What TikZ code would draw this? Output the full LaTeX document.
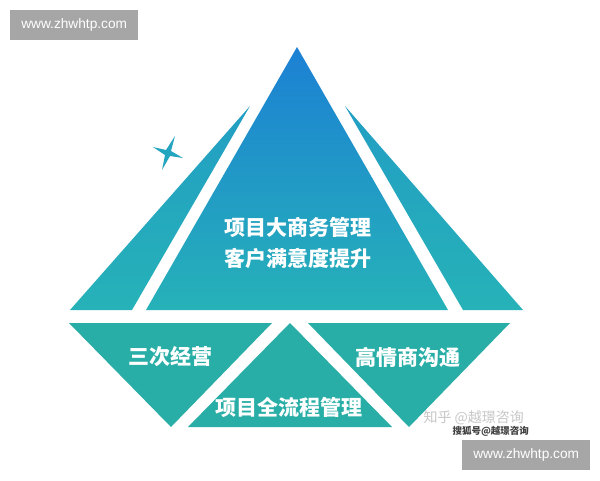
\documentclass[tikz,border=0pt]{standalone}
\usepackage{fontspec}
\setmainfont{Liberation Sans}
\newfontfamily\cjk{Noto Sans CJK SC}
\usepackage{tikz}

\definecolor{pyrtop}{RGB}{28,128,212}
\definecolor{pyrbot}{RGB}{38,178,184}
\definecolor{band}{RGB}{40,174,166}
\definecolor{wmgray}{RGB}{166,166,166}

\tikzset{
    label/.style={text=white, font=\cjk\bfseries\fontsize{21}{31}\selectfont, align=center, inner sep=0pt},
    webmark/.style={fill=wmgray, text=white, font=\fontsize{13.7}{16}\selectfont, minimum width=128pt, minimum height=30pt, inner sep=0pt}
}

\begin{document}
\begin{tikzpicture}[x=1pt, y=-1pt]
    \useasboundingbox (0,0) rectangle (600,480);
    \fill[white] (0,0) rectangle (600,480);

    % pyramid with two wings
    \shade[top color=pyrtop, bottom color=pyrbot] (297,47) -- (448,310) -- (146,310) -- cycle;
    \shade[top color=pyrbot!60!pyrtop, bottom color=pyrbot] (250,106) -- (132,310) -- (70,310) -- cycle;
    \shade[top color=pyrbot!60!pyrtop, bottom color=pyrbot] (345,106) -- (463,310) -- (523,310) -- cycle;

    % bottom band
    \fill[band] (69,323) -- (272,323) -- (171,427) -- cycle;
    \fill[band] (290,323) -- (392,427) -- (188,427) -- cycle;
    \fill[band] (308,323) -- (510,323) -- (409,427) -- cycle;

    % star
    \fill[pyrbot!75!pyrtop] (175,136) -- (171,151) -- (183,158) -- (170,156) -- (162,170)
        -- (165,155) -- (153,147) -- (166,150) -- cycle;

    \node[label] (top) at (298,243) {项目大商务管理\\客户满意度提升};
    \node[label] (left) at (170,357) {三次经营};
    \node[label] (right) at (408,357) {高情商沟通};
    \node[label] (mid) at (289,407) {项目全流程管理};

    \node[text=black!22, font=\cjk\fontsize{14}{16}\selectfont, anchor=west] (zhihu) at (420,418) {知乎 @越璟咨询};
    \node[text=black!75, font=\cjk\bfseries\fontsize{9.5}{11}\selectfont, anchor=west] (sohu) at (449,431) {搜狐号@越璟咨询};

    \node[webmark, anchor=north west] (wm1) at (10,10) {www.zhwhtp.com};
    \node[webmark, anchor=north west] (wm2) at (462,440) {www.zhwhtp.com};

\end{tikzpicture}
\end{document}
